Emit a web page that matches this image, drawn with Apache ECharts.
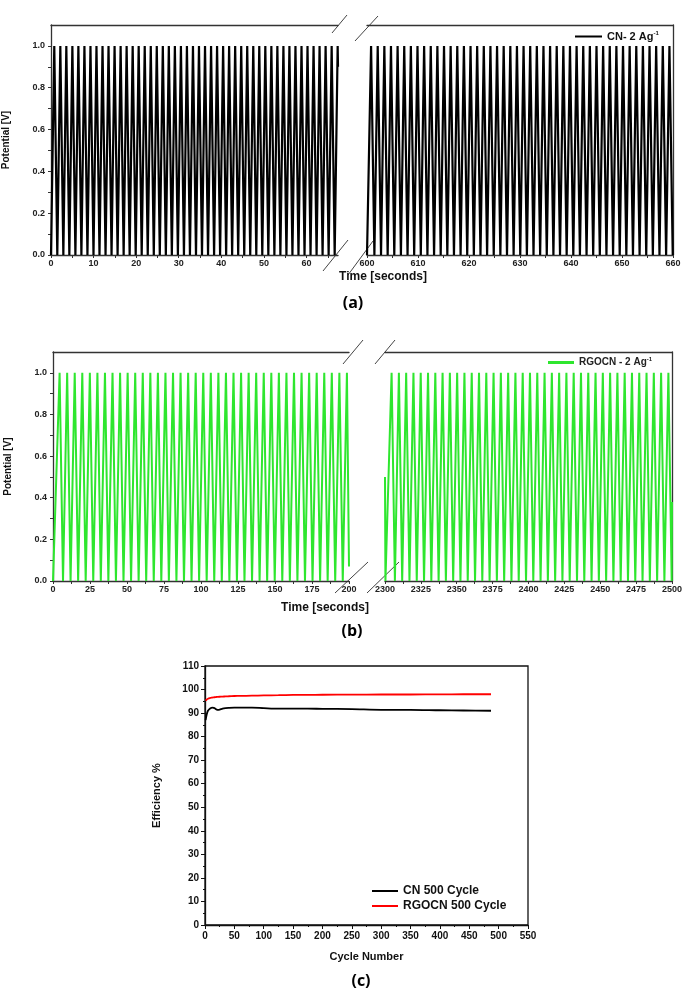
<!DOCTYPE html>
<html><head><meta charset="utf-8">
<script src="https://cdn.jsdelivr.net/npm/echarts@6/dist/echarts.min.js"></script>
<style>html,body{margin:0;padding:0;background:#fff}#c{width:685px;height:995px}</style>
</head><body><div id="c"></div>
<script>
// ---------- Panel (a): CN - 2 A/g, turning points ----------
const cnLeftStart = [[0, 0.0]];
const cnLeftPeaks = [0.77, 2.19, 3.60, 5.02, 6.43, 7.85, 9.27, 10.68, 12.10, 13.51, 14.93, 16.35, 17.76, 19.18, 20.59, 22.01, 23.43, 24.84, 26.26, 27.67, 29.09, 30.51, 31.92, 33.34, 34.75, 36.17, 37.59, 39.00, 40.42, 41.83, 43.25, 44.67, 46.08, 47.50, 48.91, 50.33, 51.75, 53.16, 54.58, 55.99, 57.41, 58.83, 60.24, 61.66, 63.07, 64.49, 65.91, 67.32];
const cnLeftValleys = [1.48, 2.90, 4.31, 5.73, 7.14, 8.56, 9.98, 11.39, 12.81, 14.22, 15.64, 17.06, 18.47, 19.89, 21.30, 22.72, 24.14, 25.55, 26.97, 28.38, 29.80, 31.22, 32.63, 34.05, 35.46, 36.88, 38.30, 39.71, 41.13, 42.54, 43.96, 45.38, 46.79, 48.21, 49.62, 51.04, 52.46, 53.87, 55.29, 56.70, 58.12, 59.54, 60.95, 62.37, 63.78, 65.20, 66.62];
const cnLeftEnd = [[67.4, 0.9]];

const cnRightStart = [[600, 0.0]];
const cnRightPeaks = [600.8, 602.1, 603.4, 604.7, 606.0, 607.3, 608.6, 609.9, 611.2, 612.5, 613.8, 615.1, 616.4, 617.7, 619.0, 620.3, 621.6, 622.9, 624.2, 625.5, 626.8, 628.1, 629.4, 630.7, 632.0, 633.3, 634.6, 635.9, 637.2, 638.5, 639.8, 641.1, 642.4, 643.7, 645.0, 646.3, 647.6, 648.9, 650.2, 651.5, 652.8, 654.1, 655.4, 656.7, 658.0, 659.3];
const cnRightValleys = [601.45, 602.75, 604.05, 605.35, 606.65, 607.95, 609.25, 610.55, 611.85, 613.15, 614.45, 615.75, 617.05, 618.35, 619.65, 620.95, 622.25, 623.55, 624.85, 626.15, 627.45, 628.75, 630.05, 631.35, 632.65, 633.95, 635.25, 636.55, 637.85, 639.15, 640.45, 641.75, 643.05, 644.35, 645.65, 646.95, 648.25, 649.55, 650.85, 652.15, 653.45, 654.75, 656.05, 657.35, 658.65, 659.95];
const cnRightEnd = [];

// ---------- Panel (b): RGOCN - 2 A/g ----------
const rgLeftStart = [[0, 0.0]];
const rgLeftPeaks = [4.46, 9.57, 14.68, 19.79, 24.90, 30.01, 35.11, 40.22, 45.33, 50.44, 55.55, 60.66, 65.77, 70.88, 75.99, 81.10, 86.20, 91.31, 96.42, 101.53, 106.64, 111.75, 116.86, 121.97, 127.08, 132.19, 137.29, 142.40, 147.51, 152.62, 157.73, 162.84, 167.95, 173.06, 178.17, 183.28, 188.38, 193.49, 198.60];
const rgLeftValleys = [6.76, 11.87, 16.98, 22.09, 27.20, 32.31, 37.41, 42.52, 47.63, 52.74, 57.85, 62.96, 68.07, 73.18, 78.29, 83.40, 88.50, 93.61, 98.72, 103.83, 108.94, 114.05, 119.16, 124.27, 129.38, 134.49, 139.59, 144.70, 149.81, 154.92, 160.03, 165.14, 170.25, 175.36, 180.47, 185.58, 190.68, 195.79];
const rgLeftEnd = [[200, 0.07]];

const rgRightStart = [[2300, 0.5], [2300.3, 0.0]];
const rgRightPeaks = [2304.60, 2309.68, 2314.75, 2319.83, 2324.90, 2329.98, 2335.06, 2340.13, 2345.21, 2350.28, 2355.36, 2360.44, 2365.51, 2370.59, 2375.66, 2380.74, 2385.82, 2390.89, 2395.97, 2401.04, 2406.12, 2411.20, 2416.27, 2421.35, 2426.42, 2431.50, 2436.58, 2441.65, 2446.73, 2451.80, 2456.88, 2461.96, 2467.03, 2472.11, 2477.18, 2482.26, 2487.34, 2492.41, 2497.49];
const rgRightValleys = [2306.90, 2311.98, 2317.05, 2322.13, 2327.20, 2332.28, 2337.36, 2342.43, 2347.51, 2352.58, 2357.66, 2362.74, 2367.81, 2372.89, 2377.96, 2383.04, 2388.12, 2393.19, 2398.27, 2403.34, 2408.42, 2413.50, 2418.57, 2423.65, 2428.72, 2433.80, 2438.88, 2443.95, 2449.03, 2454.10, 2459.18, 2464.26, 2469.33, 2474.41, 2479.48, 2484.56, 2489.64, 2494.71, 2499.79];
const rgRightEnd = [[2500, 0.38]];

const peakV = 1.0;
const valleyV = 0.0;

// ---------- Panel (c): coulombic efficiency ----------
const cycles = [1, 3, 5, 8, 10, 12, 15, 18, 20, 22, 25, 30, 35, 40, 50, 60, 80, 100, 125, 150, 175, 200, 250, 300, 350, 400, 440, 487];
const cnEff = [87.0, 89.5, 91.0, 91.8, 92.1, 92.3, 92.2, 91.8, 91.5, 91.4, 91.5, 91.9, 92.1, 92.2, 92.3, 92.3, 92.3, 92.1, 91.9, 91.9, 91.9, 91.8, 91.7, 91.4, 91.4, 91.2, 91.1, 91.0];
const rgEff = [95.3, 95.8, 96.1, 96.4, 96.5, 96.6, 96.7, 96.8, 96.85, 96.9, 96.95, 97.0, 97.1, 97.15, 97.25, 97.3, 97.4, 97.5, 97.6, 97.7, 97.75, 97.8, 97.85, 97.9, 97.9, 97.95, 98.0, 98.0];

// ---------- tick values ----------
const potTicks = [0, 0.2, 0.4, 0.6, 0.8, 1.0];
const potMinor = [0.1, 0.3, 0.5, 0.7, 0.9];
const aLeftTicks = [0, 10, 20, 30, 40, 50, 60];
const aLeftMinor = [5, 15, 25, 35, 45, 55, 65];
const aRightTicks = [600, 610, 620, 630, 640, 650, 660];
const aRightMinor = [605, 615, 625, 635, 645, 655];
const bLeftTicks = [0, 25, 50, 75, 100, 125, 150, 175, 200];
const bLeftMinor = [12.5, 37.5, 62.5, 87.5, 112.5, 137.5, 162.5, 187.5];
const bRightTicks = [2300, 2325, 2350, 2375, 2400, 2425, 2450, 2475, 2500];
const bRightMinor = [2312.5, 2337.5, 2362.5, 2387.5, 2412.5, 2437.5, 2462.5, 2487.5];

function wave(start, peaks, valleys, end) {
  const d = start.slice();
  for (let i = 0; i < peaks.length; i++) {
    d.push([peaks[i], peakV]);
    if (i < valleys.length) d.push([valleys[i], valleyV]);
  }
  return d.concat(end);
}

const FONT = 'Liberation Sans';
const AX = '#333';
const lblStyle = {fontFamily: FONT, fontWeight: 'bold', fontSize: 9, color: '#222'};

function bottomX(grid, min, max, ticks, minor) {
  return {
    type: 'value', gridIndex: grid, position: 'bottom', min: min, max: max,
    axisLine: {show: true, lineStyle: {color: AX, width: 1.3}},
    axisTick: {show: true, inside: false, length: 3, customValues: ticks.concat(minor), lineStyle: {color: AX, width: 1}},
    axisLabel: Object.assign({show: true, margin: 4, customValues: ticks, formatter: v => String(v)}, lblStyle),
    splitLine: {show: false}
  };
}
function topX(grid, min, max) {
  return {type: 'value', gridIndex: grid, position: 'top', min: min, max: max,
    axisLine: {show: true, lineStyle: {color: AX, width: 1.3}}, axisTick: {show: false}, axisLabel: {show: false}, splitLine: {show: false}};
}
function leftY(grid) {
  return {
    type: 'value', gridIndex: grid, position: 'left', min: 0, max: 1.1,
    name: 'Potential [V]', nameLocation: 'middle', nameGap: 40, nameRotate: 90,
    nameTextStyle: {fontFamily: FONT, fontWeight: 'bold', fontSize: 10, color: '#111'},
    axisLine: {show: true, lineStyle: {color: AX, width: 1.3}},
    axisTick: {show: true, length: 3, customValues: potTicks.concat(potMinor), lineStyle: {color: AX, width: 1}},
    axisLabel: Object.assign({show: true, margin: 6, customValues: potTicks, formatter: v => v.toFixed(1)}, lblStyle),
    splitLine: {show: false}
  };
}
function rightY(grid) {
  return {type: 'value', gridIndex: grid, position: 'right', min: 0, max: 1.1,
    axisLine: {show: true, lineStyle: {color: AX, width: 1.3}}, axisTick: {show: false}, axisLabel: {show: false}, splitLine: {show: false}};
}
function waveSeries(name, x, y, data, color, width) {
  return {type: 'line', name: name, xAxisIndex: x, yAxisIndex: y, data: data, showSymbol: false, symbol: 'none',
    lineStyle: {color: color, width: width}, itemStyle: {color: color}, clip: true, silent: true};
}

const GREEN = '#2ee62e';
const option = {
  animation: false,
  backgroundColor: '#fff',
  grid: [
    {left: 50, top: 25, width: 288, height: 230},
    {left: 367, top: 25, width: 306, height: 230},
    {left: 53, top: 352, width: 296, height: 229},
    {left: 385, top: 352, width: 288, height: 229},
    {left: 205, top: 666, width: 323, height: 259, show: true, borderColor: '#111', borderWidth: 1.3}
  ],
  xAxis: [
    bottomX(0, 0, 67.4, aLeftTicks, aLeftMinor),   // 0
    topX(0, 0, 67.4),                               // 1
    bottomX(1, 600, 660, aRightTicks, aRightMinor), // 2
    topX(1, 600, 660),                              // 3
    bottomX(2, 0, 200, bLeftTicks, bLeftMinor),     // 4
    topX(2, 0, 200),                                // 5
    bottomX(3, 2300, 2500, bRightTicks, bRightMinor), // 6
    topX(3, 2300, 2500),                            // 7
    { type: 'value', gridIndex: 4, min: 0, max: 550, interval: 50,
      name: 'Cycle Number', nameLocation: 'middle', nameGap: 26,
      nameTextStyle: {fontFamily: FONT, fontWeight: 'bold', fontSize: 11, color: '#111'},
      axisLine: {show: true, lineStyle: {color: '#111', width: 1.3}},
      axisTick: {show: true, length: 4, lineStyle: {color: '#111'}},
      minorTick: {show: true, splitNumber: 2, length: 2, lineStyle: {color: '#111'}},
      axisLabel: {margin: 6, fontFamily: FONT, fontWeight: 'bold', fontSize: 10, color: '#111'},
      splitLine: {show: false}, minorSplitLine: {show: false} }
  ],
  yAxis: [
    leftY(0),   // 0
    rightY(1),  // 1
    leftY(2),   // 2
    rightY(3),  // 3
    { type: 'value', gridIndex: 4, min: 0, max: 110, interval: 10,
      name: 'Efficiency %', nameLocation: 'middle', nameGap: 43, nameRotate: 90,
      nameTextStyle: {fontFamily: FONT, fontWeight: 'bold', fontSize: 11, color: '#111'},
      axisLine: {show: true, lineStyle: {color: '#111', width: 1.3}},
      axisTick: {show: true, length: 4, lineStyle: {color: '#111'}},
      minorTick: {show: true, splitNumber: 2, length: 2, lineStyle: {color: '#111'}},
      axisLabel: {margin: 6, fontFamily: FONT, fontWeight: 'bold', fontSize: 10, color: '#111'},
      splitLine: {show: false}, minorSplitLine: {show: false} }
  ],
  legend: [
    { data: [{name: 'CN- 2 Ag-1', icon: 'rect'}], left: 575, top: 30, padding: 0, itemWidth: 27, itemHeight: 2, itemGap: 0,
      formatter: () => '{t|CN- 2 Ag}{s|-1}',
      textStyle: {fontFamily: FONT, fontWeight: 'bold', fontSize: 11, color: '#111',
        rich: {t: {fontFamily: FONT, fontWeight: 'bold', fontSize: 11, color: '#111'}, s: {fontFamily: FONT, fontWeight: 'bold', fontSize: 6, color: '#111', padding: [0, 0, 7, 0]}}},
      selectedMode: false },
    { data: [{name: 'RGOCN - 2 Ag-1', icon: 'rect'}], left: 548, top: 356, padding: 0, itemWidth: 26, itemHeight: 3, itemGap: 0,
      formatter: () => '{t|RGOCN - 2 Ag}{s|-1}',
      textStyle: {fontFamily: FONT, fontWeight: 'bold', fontSize: 10, color: '#222',
        rich: {t: {fontFamily: FONT, fontWeight: 'bold', fontSize: 10, color: '#222'}, s: {fontFamily: FONT, fontWeight: 'bold', fontSize: 6, color: '#222', padding: [0, 0, 7, 0]}}},
      selectedMode: false },
    { data: [{name: 'CN 500 Cycle', icon: 'rect'}, {name: 'RGOCN 500 Cycle', icon: 'rect'}], orient: 'vertical', left: 372, top: 884, padding: 0,
      itemWidth: 26, itemHeight: 2, itemGap: 1,
      textStyle: {fontFamily: FONT, fontWeight: 'bold', fontSize: 12, color: '#111', lineHeight: 14},
      selectedMode: false }
  ],
  series: [
    waveSeries('CN- 2 Ag-1', 0, 0, wave(cnLeftStart, cnLeftPeaks, cnLeftValleys, cnLeftEnd), '#000', 2.2),
    waveSeries('CN- 2 Ag-1', 2, 1, wave(cnRightStart, cnRightPeaks, cnRightValleys, cnRightEnd), '#000', 2.2),
    waveSeries('RGOCN - 2 Ag-1', 4, 2, wave(rgLeftStart, rgLeftPeaks, rgLeftValleys, rgLeftEnd), GREEN, 2),
    waveSeries('RGOCN - 2 Ag-1', 6, 3, wave(rgRightStart, rgRightPeaks, rgRightValleys, rgRightEnd), GREEN, 2),
    {type: 'line', name: 'CN 500 Cycle', xAxisIndex: 8, yAxisIndex: 4, data: cycles.map((c, i) => [c, cnEff[i]]),
      showSymbol: false, symbol: 'none', smooth: 0.3, lineStyle: {color: '#000', width: 1.8}, itemStyle: {color: '#000'}},
    {type: 'line', name: 'RGOCN 500 Cycle', xAxisIndex: 8, yAxisIndex: 4, data: cycles.map((c, i) => [c, rgEff[i]]),
      showSymbol: false, symbol: 'none', smooth: 0.3, lineStyle: {color: '#f00', width: 1.8}, itemStyle: {color: '#f00'}}
  ],
  graphic: [
    // break marks (a)
    {type: 'line', shape: {x1: 332, y1: 33, x2: 347, y2: 15}, style: {stroke: '#444', lineWidth: 1}},
    {type: 'line', shape: {x1: 355, y1: 41, x2: 378, y2: 16}, style: {stroke: '#444', lineWidth: 1}},
    {type: 'line', shape: {x1: 323, y1: 271, x2: 348, y2: 240}, style: {stroke: '#444', lineWidth: 1}},
    {type: 'line', shape: {x1: 348, y1: 275, x2: 373, y2: 241}, style: {stroke: '#444', lineWidth: 1}},
    // break marks (b)
    {type: 'line', shape: {x1: 343, y1: 364, x2: 363, y2: 340}, style: {stroke: '#444', lineWidth: 1}},
    {type: 'line', shape: {x1: 375, y1: 364, x2: 395, y2: 340}, style: {stroke: '#444', lineWidth: 1}},
    {type: 'line', shape: {x1: 335, y1: 593, x2: 368, y2: 562}, style: {stroke: '#444', lineWidth: 1}},
    {type: 'line', shape: {x1: 367, y1: 593, x2: 399, y2: 562}, style: {stroke: '#444', lineWidth: 1}},
    // titles
    {type: 'text', x: 383, y: 277, style: {text: 'Time [seconds]', font: 'bold 12px "Liberation Sans"', fill: '#111', align: 'center', verticalAlign: 'middle'}},
    {type: 'text', x: 325, y: 608, style: {text: 'Time [seconds]', font: 'bold 12px "Liberation Sans"', fill: '#111', align: 'center', verticalAlign: 'middle'}},
    {type: 'text', x: 353, y: 303, style: {text: '(a)', font: 'bold 16px "Open Sans"', fill: '#000', align: 'center', verticalAlign: 'middle'}},
    {type: 'text', x: 352, y: 631, style: {text: '(b)', font: 'bold 16px "Open Sans"', fill: '#000', align: 'center', verticalAlign: 'middle'}},
    {type: 'text', x: 361, y: 981, style: {text: '(c)', font: 'bold 16px "Open Sans"', fill: '#000', align: 'center', verticalAlign: 'middle'}}
  ]
};
const chart = echarts.init(document.getElementById('c'), null, {renderer: 'canvas'});
chart.setOption(option);
</script>
</body></html>
